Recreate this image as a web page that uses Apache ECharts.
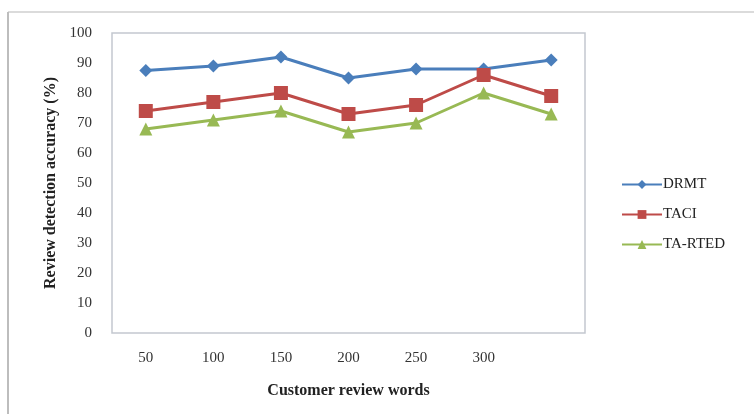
<!DOCTYPE html>
<html>
<head>
<meta charset="utf-8">
<script src="https://cdn.jsdelivr.net/npm/echarts@6/dist/echarts.min.js"></script>
<style>
  html, body { margin: 0; padding: 0; background: #fff; }
  #chart { width: 754px; height: 414px; }
</style>
</head>
<body>
<div id="chart"></div>
<script>
// Customer review word counts (last point has no label)
const categories = ['50', '100', '150', '200', '250', '300', ''];
const drmt   = [87.5, 89, 92, 85, 88, 88, 91];
const taci   = [74, 77, 80, 73, 76, 86, 79];
const taRted = [68, 71, 74, 67, 70, 80, 73];
const yTicks = { min: 0, max: 100, interval: 10 };

const serif = '"Liberation Serif", "DejaVu Serif", serif';
const chart = echarts.init(document.getElementById('chart'));

function lineSeries(name, data, color, symbol, size) {
  return {
    name, type: 'line', data,
    symbol, symbolSize: size,
    lineStyle: { color, width: 3 },
    itemStyle: { color },
    emphasis: { disabled: true },
    animation: false
  };
}

chart.setOption({
  animation: false,
  backgroundColor: '#fff',
  graphic: [
    { type: 'line', shape: { x1: 8, y1: 12, x2: 754, y2: 12 }, style: { stroke: '#cfcfcf', lineWidth: 1.5 } },
    { type: 'line', shape: { x1: 8, y1: 12, x2: 8, y2: 414 }, style: { stroke: '#bdbdbd', lineWidth: 2 } },
    { type: 'rect', shape: { x: 112, y: 33, width: 473, height: 300 }, style: { fill: 'none', stroke: '#c3c8d0', lineWidth: 1.5 }, z: 10 }
  ],
  grid: { left: 112, top: 33, width: 473, height: 300, show: false },
  legend: {
    orient: 'vertical',
    left: 616, top: 172,
    itemWidth: 40, itemHeight: 11, itemGap: 15,
    textStyle: { fontFamily: serif, fontSize: 15, color: '#222', padding: [0, 0, 0, -4] },
    data: ['DRMT', 'TACI', 'TA-RTED']
  },
  xAxis: {
    type: 'category',
    data: categories,
    boundaryGap: true,
    name: 'Customer review words',
    nameLocation: 'middle',
    nameGap: 50,
    nameTextStyle: { fontFamily: serif, fontSize: 16, fontWeight: 'bold', color: '#222' },
    axisLine: { show: false },
    axisTick: { show: false },
    axisLabel: { fontFamily: serif, fontSize: 15, color: '#333', margin: 18 }
  },
  yAxis: {
    type: 'value',
    min: yTicks.min, max: yTicks.max, interval: yTicks.interval,
    name: 'Review detection accuracy (%)',
    nameLocation: 'middle',
    nameGap: 53,
    nameTextStyle: { fontFamily: serif, fontSize: 16, fontWeight: 'bold', color: '#222' },
    axisLine: { show: false },
    axisTick: { show: false },
    splitLine: { show: false },
    axisLabel: { fontFamily: serif, fontSize: 15, color: '#333', margin: 20 }
  },
  series: [
    lineSeries('DRMT', drmt, '#4a7ebb', 'diamond', 13),
    lineSeries('TACI', taci, '#be4b48', 'rect', 14),
    lineSeries('TA-RTED', taRted, '#98b954', 'triangle', 13)
  ]
});
</script>
</body>
</html>
